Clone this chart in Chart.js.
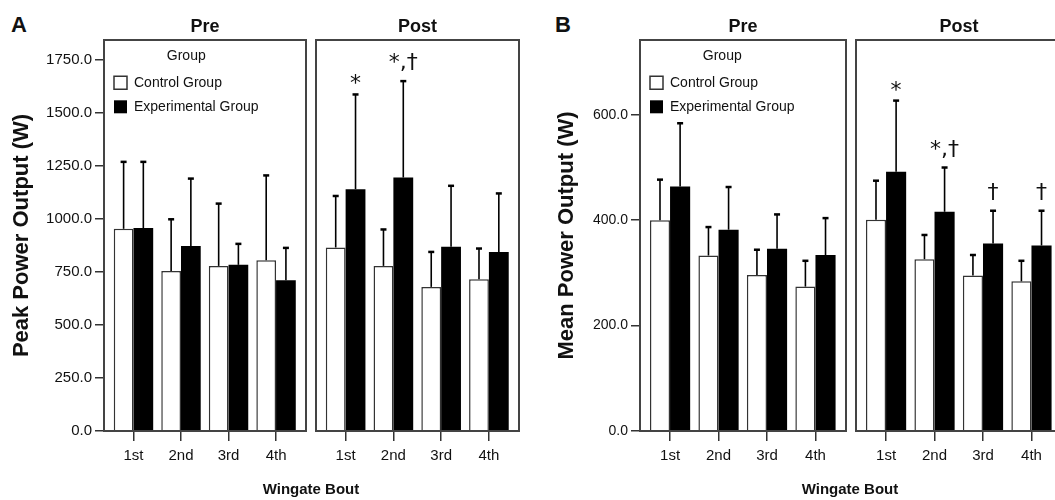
<!DOCTYPE html>
<html><head><meta charset="utf-8">
<script src="https://cdn.jsdelivr.net/npm/chart.js@4.4.1/dist/chart.umd.min.js"></script>
<style>
html,body{margin:0;padding:0;background:#fff;width:1055px;height:500px;overflow:hidden;position:relative;font-family:"Liberation Sans",Arial,sans-serif;}
canvas{position:absolute;top:0;}
.lbl{position:absolute;font-weight:bold;color:#111;white-space:nowrap;line-height:1;}
</style></head><body>
<div class="lbl" style="left:11px;top:14px;font-size:22px">A</div>
<div class="lbl" style="left:555px;top:14px;font-size:22px">B</div>
<canvas id="aPre" width="310" height="500" style="left:0px"></canvas>
<canvas id="aPost" width="215" height="500" style="left:310px"></canvas>
<canvas id="bPre" width="305" height="500" style="left:545px"></canvas>
<canvas id="bPost" width="218" height="500" style="left:850px"></canvas>
<div class="lbl" style="left:211px;width:200px;text-align:center;top:481px;font-size:15px">Wingate Bout</div>
<div class="lbl" style="left:750px;width:200px;text-align:center;top:481px;font-size:15px">Wingate Bout</div>
<script>
// ---- data ----
const bouts = ['1st', '2nd', '3rd', '4th'];
const groupLabels = ['Control Group', 'Experimental Group'];
const phaseTitles = ['Pre', 'Post'];

const peakTicks = [0, 250, 500, 750, 1000, 1250, 1500, 1750];
const meanTicks = [0, 200, 400, 600];

// Peak power output (W): means and SD (upper error bar)
const peakPreControl = [954, 755, 779, 806];
const peakPreControlSD = [316, 244, 294, 400];
const peakPreExp = [958, 873, 784, 711];
const peakPreExpSD = [312, 318, 99, 153];
const peakPostControl = [866, 779, 680, 716];
const peakPostControlSD = [243, 172, 165, 145];
const peakPostExp = [1141, 1196, 869, 845];
const peakPostExpSD = [447, 455, 288, 276];
const peakPostMarks = ['*', '*,†', '', ''];

// Mean power output (W)
const meanPreControl = [400, 333, 296, 274];
const meanPreControlSD = [77, 54, 48, 49];
const meanPreExp = [464, 382, 346, 334];
const meanPreExpSD = [120, 81, 65, 70];
const meanPostControl = [401, 326, 295, 284];
const meanPostControlSD = [74, 46, 39, 39];
const meanPostExp = [492, 416, 356, 352];
const meanPostExpSD = [135, 84, 62, 66];
const meanPostMarks = ['*', '*,†', '†', '†'];

// ---- rendering ----
const FONT = '"Liberation Sans", Arial, sans-serif';
Chart.defaults.font.family = FONT;
Chart.defaults.color = '#111';
Chart.defaults.animation = false;

function makeDecor(sds, marks, title) {
  return {
    id: 'decor',
    afterDatasetsDraw(chart) {
      const ctx = chart.ctx, a = chart.chartArea, ys = chart.scales.y;
      ctx.save();
      ctx.strokeStyle = '#000';
      chart.data.datasets.forEach((ds, di) => {
        const meta = chart.getDatasetMeta(di);
        meta.data.forEach((bar, i) => {
          const topY = ys.getPixelForValue(ds.data[i].y + sds[di][i]);
          ctx.lineWidth = 1.6;
          ctx.beginPath(); ctx.moveTo(bar.x, bar.y); ctx.lineTo(bar.x, topY); ctx.stroke();
          ctx.lineWidth = 2.5;
          ctx.beginPath(); ctx.moveTo(bar.x - 3, topY); ctx.lineTo(bar.x + 3, topY); ctx.stroke();
          const mark = (marks && di === 1) ? marks[i] : '';
          if (mark) {
            ctx.font = '22px "DejaVu Sans"';
            ctx.textAlign = 'center';
            ctx.textBaseline = 'alphabetic';
            ctx.fillStyle = '#111';
            const m = ctx.measureText(mark);
            ctx.fillText(mark, bar.x, topY - 10 - m.actualBoundingBoxDescent);
          }
        });
      });
      ctx.lineWidth = 2;
      ctx.strokeStyle = '#444';
      ctx.strokeRect(a.left, a.top, a.right - a.left, a.bottom - a.top);
      ctx.restore();
    },
    afterDraw(chart) {
      const ctx = chart.ctx, a = chart.chartArea;
      ctx.save();
      ctx.font = 'bold 18px ' + FONT;
      ctx.textAlign = 'center';
      ctx.textBaseline = 'alphabetic';
      ctx.fillStyle = '#111';
      ctx.fillText(title, (a.left + a.right) / 2, 31.5);
      ctx.restore();
    }
  };
}

function makeChart(id, o) {
  const datasets = [
    { label: groupLabels[0], data: o.control.map((v, i) => ({ x: i, y: v })),
      backgroundColor: '#ffffff', borderColor: '#333', borderWidth: 1.5 },
    { label: groupLabels[1], data: o.exp.map((v, i) => ({ x: i, y: v })),
      backgroundColor: '#000000', borderColor: '#000', borderWidth: 0 }
  ];
  return new Chart(document.getElementById(id), {
    type: 'bar',
    data: { datasets },
    options: {
      responsive: false,
      animation: false,
      layout: { padding: { top: 40, bottom: 0, left: o.padL, right: o.padR } },
      datasets: { bar: { categoryPercentage: 0.83, barPercentage: 1.0, grouped: true } },
      plugins: {
        tooltip: { enabled: false },
        legend: {
          display: !!o.legend,
          position: 'chartArea',
          align: 'start',
          title: { display: true, text: 'Group', font: { size: 14 }, color: '#111', padding: { top: 49, bottom: 0 } },
          labels: { boxWidth: 13, boxHeight: 13, font: { size: 14 }, color: '#111', padding: 10 }
        }
      },
      scales: {
        x: {
          type: 'linear', min: -0.62, max: 3.63, offset: false,
          afterBuildTicks: s => { s.ticks = bouts.map((b, i) => ({ value: i })); },
          afterFit: s => { s.height = 69; },
          border: { display: false },
          grid: { offset: false, drawOnChartArea: false, drawTicks: true, tickLength: 10, color: '#333', lineWidth: 1.5 },
          ticks: { callback: v => bouts[v], font: { size: 15 }, color: '#111', padding: 6, autoSkip: false, maxRotation: 0 }
        },
        y: {
          display: o.showY,
          min: 0, max: o.yMax,
          afterBuildTicks: s => { s.ticks = o.yTicks.map(v => ({ value: v })); },
          afterFit: s => { if (o.showY) s.width = o.yWidth; },
          border: { display: false },
          grid: { drawOnChartArea: false, drawTicks: true, tickLength: 9, color: '#333', lineWidth: 1.5 },
          ticks: { callback: v => Number(v).toFixed(1), font: { size: o.yFont }, color: '#111', padding: 3 },
          title: { display: true, text: o.yTitle, font: { size: 22, weight: 'bold' }, color: '#111', padding: { top: 9, bottom: 0 } }
        }
      }
    },
    plugins: [makeDecor(o.sds, o.marks, o.title)]
  });
}

makeChart('aPre', {
  control: peakPreControl, exp: peakPreExp, sds: [peakPreControlSD, peakPreExpSD], marks: null,
  title: phaseTitles[0], showY: true, yWidth: 104, yMax: 1845, yTicks: peakTicks, yFont: 15,
  yTitle: 'Peak Power Output (W)', legend: true, padL: 0, padR: 4
});
makeChart('aPost', {
  control: peakPostControl, exp: peakPostExp, sds: [peakPostControlSD, peakPostExpSD], marks: peakPostMarks,
  title: phaseTitles[1], showY: false, yMax: 1845, yTicks: peakTicks, yFont: 15,
  yTitle: '', legend: false, padL: 6, padR: 6
});
makeChart('bPre', {
  control: meanPreControl, exp: meanPreExp, sds: [meanPreControlSD, meanPreExpSD], marks: null,
  title: phaseTitles[0], showY: true, yWidth: 95, yMax: 742, yTicks: meanTicks, yFont: 14,
  yTitle: 'Mean Power Output (W)', legend: true, padL: 0, padR: 4
});
makeChart('bPost', {
  control: meanPostControl, exp: meanPostExp, sds: [meanPostControlSD, meanPostExpSD], marks: meanPostMarks,
  title: phaseTitles[1], showY: false, yMax: 742, yTicks: meanTicks, yFont: 14,
  yTitle: '', legend: false, padL: 6, padR: 6
});
</script>
</body></html>
